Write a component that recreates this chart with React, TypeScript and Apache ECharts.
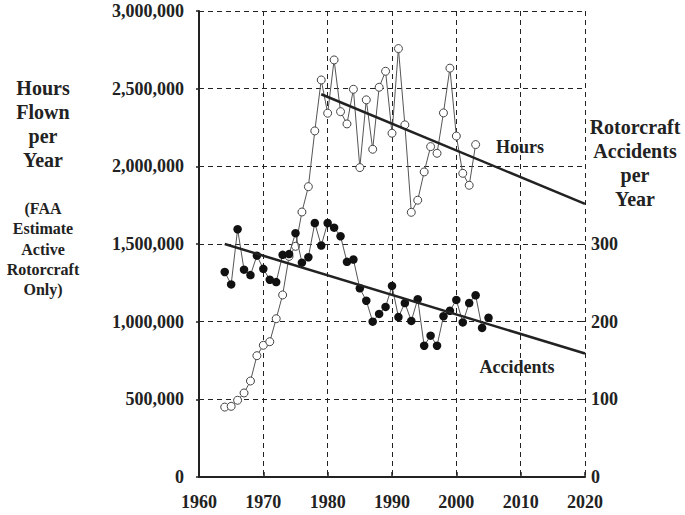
import React, { useEffect, useRef } from "react";
import * as echarts from "echarts";

const hoursYears = [1964,1965,1966,1967,1968,1969,1970,1971,1972,1973,1974,1975,1976,1977,1978,1979,1980,1981,1982,1983,1984,1985,1986,1987,1988,1989,1990,1991,1992,1993,1994,1995,1996,1997,1998,1999,2000,2001,2002,2003];
const hoursValues = [450000,455000,494000,541000,618000,781000,848000,871000,1019000,1172000,1420000,1485000,1706000,1869000,2228000,2556000,2342000,2685000,2352000,2273000,2496000,1992000,2428000,2110000,2509000,2612000,2213000,2758000,2267000,1704000,1782000,1964000,2127000,2084000,2344000,2632000,2195000,1955000,1878000,2140000];

const accYears = [1964,1965,1966,1967,1968,1969,1970,1971,1972,1973,1974,1975,1976,1977,1978,1979,1980,1981,1982,1983,1984,1985,1986,1987,1988,1989,1990,1991,1992,1993,1994,1995,1996,1997,1998,1999,2000,2001,2002,2003,2004,2005];
const accValues = [264,248,319,267,260,285,268,254,251,286,287,314,276,283,327,298,327,321,310,277,280,243,227,200,210,219,246,206,224,201,229,169,182,169,207,214,228,199,224,234,192,205];

const hoursTrendYears = [1979, 2020];
const hoursTrendValues = [2464000, 1758000];
const accTrendYears = [1964, 2020];
const accTrendValues = [300, 159];

const rightTicks = [0, 100, 200, 300];

const FONT = "'Liberation Serif', 'Times New Roman', serif";

export default function App() {
  const ref = useRef<HTMLDivElement>(null);
  useEffect(() => {
    if (!ref.current) return;
    const chart = echarts.init(ref.current, undefined, { renderer: "svg" });
    const pair = (xs: number[], ys: number[]) => xs.map((x, i) => [x, ys[i]]);
    const dash = { color: "#222", width: 1, type: [5, 4] as number[] };
    chart.setOption({
      animation: false,
      backgroundColor: "#fff",
      grid: { left: 199, right: 100, top: 11, bottom: 38 },
      xAxis: {
        type: "value",
        min: 1960,
        max: 2020,
        interval: 10,
        axisLine: { show: true, lineStyle: { color: "#222", width: 2 } },
        axisTick: { show: true, inside: true, length: 5, lineStyle: { color: "#222", width: 1.5 } },
        axisLabel: {
          margin: 16,
          color: "#222",
          fontFamily: FONT,
          fontWeight: "bold",
          fontSize: 18,
          formatter: (v: number) => String(v),
        },
        splitLine: { show: true, lineStyle: dash },
      },
      yAxis: [
        {
          type: "value",
          min: 0,
          max: 3000000,
          interval: 500000,
          position: "left",
          axisLine: { show: true, lineStyle: { color: "#222", width: 2 } },
          axisTick: { show: true, inside: false, length: 3, lineStyle: { color: "#222", width: 1.5 } },
          axisLabel: {
            margin: 15,
            color: "#222",
            fontFamily: FONT,
            fontWeight: "bold",
            fontSize: 18,
            formatter: (v: number) => v.toLocaleString("en-US"),
          },
          splitLine: { show: true, lineStyle: dash },
        },
        {
          type: "value",
          min: 0,
          max: 600,
          interval: 100,
          position: "right",
          axisLine: { show: false },
          axisTick: { show: true, inside: true, length: 3, customValues: rightTicks, lineStyle: { color: "#222", width: 1 } },
          axisLabel: {
            margin: 6,
            color: "#222",
            fontFamily: FONT,
            fontWeight: "bold",
            fontSize: 18,
            customValues: rightTicks,
            formatter: (v: number) => (v <= 300 ? String(v) : ""),
          },
          splitLine: { show: false },
        },
      ],
      series: [
        {
          name: "Hours",
          type: "line",
          yAxisIndex: 0,
          data: pair(hoursYears, hoursValues),
          symbol: "circle",
          symbolSize: 8,
          showAllSymbol: true,
          lineStyle: { color: "#555", width: 1 },
          itemStyle: { color: "#fff", borderColor: "#444", borderWidth: 1 },
          z: 2,
        },
        {
          name: "Accidents",
          type: "line",
          yAxisIndex: 1,
          data: pair(accYears, accValues),
          symbol: "circle",
          symbolSize: 8.5,
          showAllSymbol: true,
          lineStyle: { color: "#555", width: 1 },
          itemStyle: { color: "#111", borderColor: "#111", borderWidth: 0 },
          z: 3,
        },
        {
          name: "HoursTrend",
          type: "line",
          yAxisIndex: 0,
          data: pair(hoursTrendYears, hoursTrendValues),
          symbol: "none",
          lineStyle: { color: "#222", width: 2.5 },
          z: 4,
        },
        {
          name: "AccTrend",
          type: "line",
          yAxisIndex: 1,
          data: pair(accTrendYears, accTrendValues),
          symbol: "none",
          lineStyle: { color: "#222", width: 2.5 },
          z: 4,
        },
      ],
      graphic: [
        {
          type: "text",
          x: 43,
          y: 124,
          style: {
            text: "Hours\nFlown\nper\nYear",
            textAlign: "center",
            textVerticalAlign: "middle",
            font: `bold 20px ${FONT}`,
            lineHeight: 24,
            fill: "#222",
          },
        },
        {
          type: "text",
          x: 43,
          y: 249,
          style: {
            text: "(FAA\nEstimate\nActive\nRotorcraft\nOnly)",
            textAlign: "center",
            textVerticalAlign: "middle",
            font: `bold 16px ${FONT}`,
            lineHeight: 20.2,
            fill: "#222",
          },
        },
        {
          type: "text",
          x: 635,
          y: 163,
          style: {
            text: "Rotorcraft\nAccidents\nper\nYear",
            textAlign: "center",
            textVerticalAlign: "middle",
            font: `bold 20px ${FONT}`,
            lineHeight: 24.3,
            fill: "#222",
          },
        },
        {
          type: "text",
          x: 520,
          y: 147,
          style: {
            text: "Hours",
            textAlign: "center",
            textVerticalAlign: "middle",
            font: `bold 18px ${FONT}`,
            fill: "#222",
          },
        },
        {
          type: "text",
          x: 517,
          y: 367,
          style: {
            text: "Accidents",
            textAlign: "center",
            textVerticalAlign: "middle",
            font: `bold 18px ${FONT}`,
            fill: "#222",
          },
        },
      ],
    });
    return () => chart.dispose();
  }, []);
  return (
    <div
      ref={ref}
      style={{ position: "fixed", left: 0, top: 0, width: 685, height: 515, background: "#fff" }}
    />
  );
}
